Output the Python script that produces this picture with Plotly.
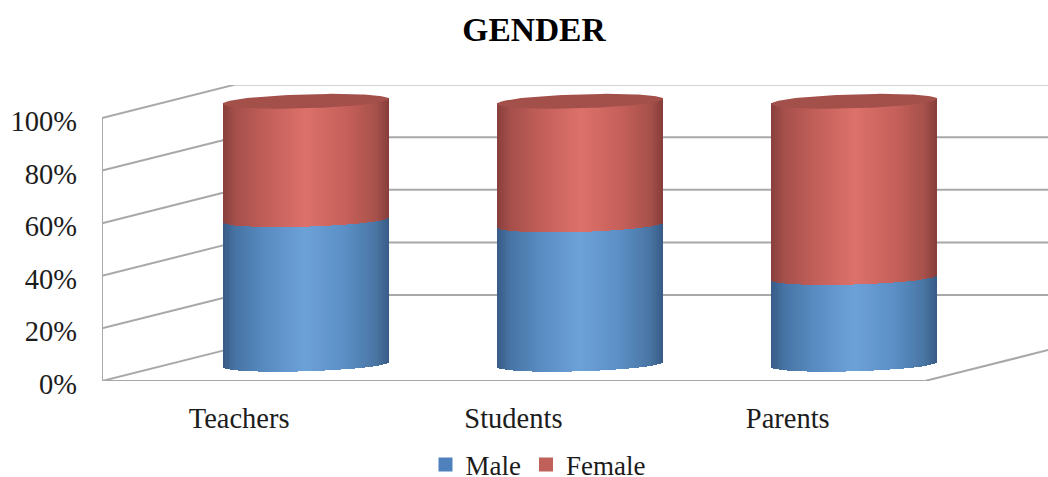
import numpy as np
import plotly.graph_objects as go

categories = ["Teachers", "Students", "Parents"]
male = [55, 53, 33]
female = [45, 47, 67]
y_ticks = [0, 20, 40, 60, 80, 100]
y_tick_labels = ["0%", "20%", "40%", "60%", "80%", "100%"]

W, H = 1048, 495  # taller than the window so the legend box has room; the page does not scroll
L, R, T, B = 102, 1048, 85, 381
PX_X = 274.3
PX_Y = 2.63
DEPTH_X = 133 / PX_X
DEPTH_Y = 33.4 / PX_Y
HALF_W = 83 / PX_X
RY = 7 / PX_Y
TILT = 2.5 / PX_Y
N = 84
FONT = "Liberation Serif"
INK = "#1c1c1c"
GRID = "#a8a8a8"

x0 = -0.5
x_range = [x0, x0 + (R - L) / PX_X]
y_range = [0, (B - T) / PX_Y]

stops = [0, 0.08, 0.25, 0.5, 0.75, 0.92, 1]
blue = [(56, 92, 134), (72, 116, 165), (88, 139, 192), (109, 162, 217), (90, 142, 196), (74, 118, 165), (56, 92, 134)]
red = [(136, 64, 60), (166, 80, 76), (192, 94, 88), (221, 113, 107), (198, 96, 90), (168, 82, 76), (134, 62, 58)]


def shade(table, t):
    a = np.array(table, float)
    return "rgb(%d,%d,%d)" % tuple(np.interp(t, stops, a[:, i]) for i in range(3))


us = (np.arange(N) + 0.5) / N * 2 - 1
arc = np.sqrt(1 - us ** 2)
strip_w = 2 * HALF_W / N * 1.08


def lower(level, u, a):
    return level + DEPTH_Y / 2 + TILT * u - RY * a


xs, b_base, b_h, b_col, r_base, r_h, r_col = [], [], [], [], [], [], []
for i in range(len(categories)):
    cx = i + DEPTH_X / 2
    for u, a in zip(us, arc):
        xs.append(cx + u * HALF_W)
        t = (u + 1) / 2
        y0 = lower(0, u, a)
        y1 = lower(male[i], u, a)
        y2 = lower(male[i] + female[i], u, a) + min(0.7, 2 * RY * a)
        b_base.append(y0)
        b_h.append(y1 - y0)
        b_col.append(shade(blue, t))
        r_base.append(y1)
        r_h.append(y2 - y1)
        r_col.append(shade(red, t))

fig = go.Figure()
fig.add_bar(x=xs, y=b_h, base=b_base, width=strip_w, marker=dict(color=b_col, line_width=0),
            showlegend=False, hoverinfo="skip")
fig.add_bar(x=xs, y=r_h, base=r_base, width=strip_w, marker=dict(color=r_col, line_width=0),
            showlegend=False, hoverinfo="skip")

theta = np.linspace(0, 2 * np.pi, 121)
for i in range(len(categories)):
    cx = i + DEPTH_X / 2
    level = male[i] + female[i]
    u = np.cos(theta)
    fig.add_scatter(x=cx + u * HALF_W,
                    y=level + DEPTH_Y / 2 + TILT * u + RY * np.sin(theta),
                    mode="lines", fill="toself", fillcolor="#a34f4a",
                    line=dict(width=0, color="#a34f4a"), showlegend=False, hoverinfo="skip")

fig.add_scatter(x=[None], y=[None], mode="markers", name="Male",
                marker=dict(symbol="square", size=14, color="#4f81bd"))
fig.add_scatter(x=[None], y=[None], mode="markers", name="Female",
                marker=dict(symbol="square", size=14, color="#c0605a"))

wall_line = dict(color=GRID, width=2)
shapes = []
back_x = x0 + DEPTH_X
far_x = len(categories) + x0
for t in y_ticks:
    shapes.append(dict(type="line", xref="x", yref="y", x0=x0, y0=t, x1=back_x, y1=t + DEPTH_Y,
                       line=wall_line, layer="below"))
    if t > 0:
        shapes.append(dict(type="line", xref="x", yref="y", x0=back_x, y0=t + DEPTH_Y,
                           x1=far_x + DEPTH_X, y1=t + DEPTH_Y, line=wall_line, layer="below"))
shapes.append(dict(type="line", xref="x", yref="y", x0=x0, y0=0, x1=x0, y1=100, line=wall_line, layer="below"))
shapes.append(dict(type="line", xref="x", yref="y", x0=x0, y0=0, x1=far_x, y1=0, line=wall_line, layer="below"))
shapes.append(dict(type="line", xref="x", yref="y", x0=far_x, y0=0, x1=far_x + DEPTH_X, y1=DEPTH_Y,
                   line=wall_line, layer="below"))

fig.update_layout(
    width=W, height=H, autosize=False,
    margin=dict(l=L, r=W - R, t=T, b=H - B, pad=0),
    paper_bgcolor="white", plot_bgcolor="white",
    barmode="overlay", bargap=0,
    shapes=shapes,
    font=dict(family=FONT, color=INK, size=28.5),
    title=dict(text="<b>GENDER</b>", x=534 / W, xanchor="center", y=1 - 29 / H, yanchor="middle",
               font=dict(family=FONT, size=33.5, color="#000000")),
    xaxis=dict(range=x_range, tickmode="array", tickvals=list(range(len(categories))), ticktext=categories,
               showgrid=False, zeroline=False, showline=False, ticks="", ticklabelstandoff=17,
               tickfont=dict(family=FONT, size=28.5, color=INK)),
    yaxis=dict(range=y_range, tickmode="array", tickvals=y_ticks, ticktext=y_tick_labels,
               showgrid=False, zeroline=False, showline=False, ticks="", ticklabelstandoff=24, ticklabelshift=3,
               tickfont=dict(family=FONT, size=28.5, color=INK)),
    legend=dict(orientation="h", x=(538 - L) / (R - L), xanchor="center", y=(B - 465) / (B - T), yanchor="middle",
                font=dict(family=FONT, size=27, color=INK),
                bgcolor="rgba(0,0,0,0)", itemwidth=30),
)
fig.write_html("out.html",
               post_script="document.body.style.margin='0';document.documentElement.style.overflow='hidden';",
               config={"displayModeBar": False})
